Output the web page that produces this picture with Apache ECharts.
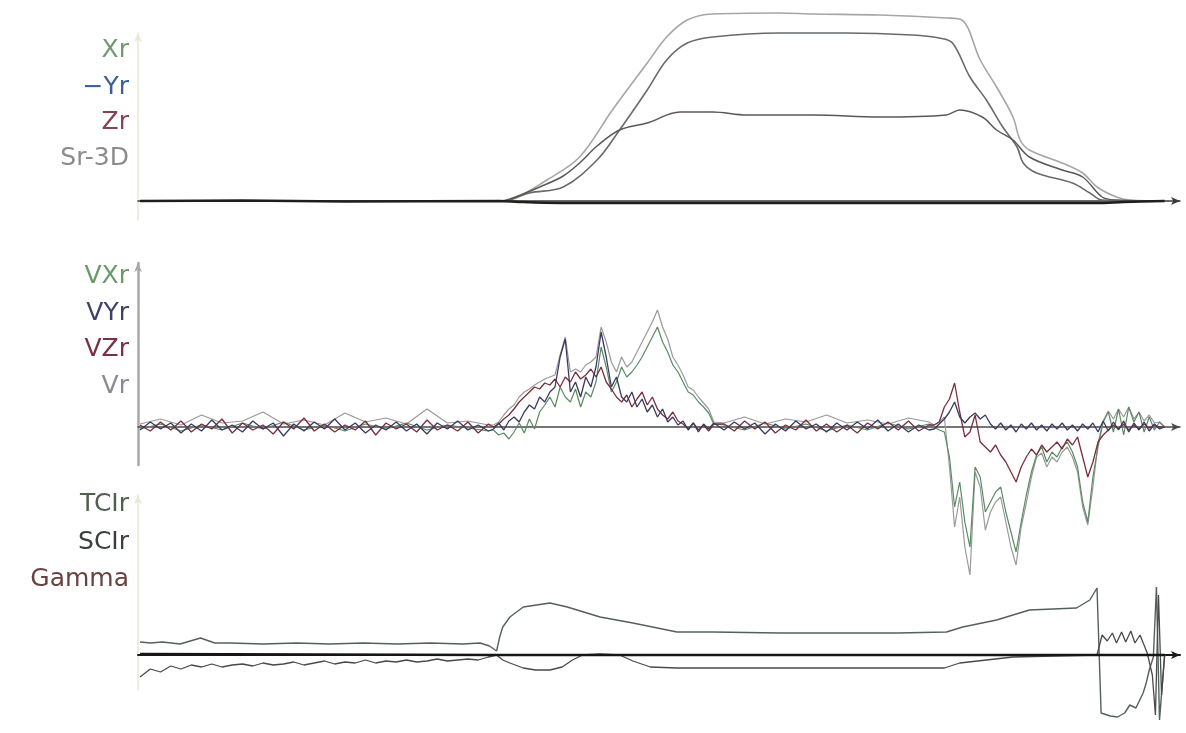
<!DOCTYPE html>
<html>
<head>
<meta charset="utf-8">
<script src="https://cdn.jsdelivr.net/npm/echarts@6/dist/echarts.min.js"></script>
<style>
html,body{margin:0;padding:0;background:#fff;}
#c{width:1186px;height:733px;}
</style>
</head>
<body>
<div id="c"></div>
<script>
// ---------- Panel 1: positions ----------
const labels1 = ['Xr', '\u2212Yr', 'Zr', 'Sr-3D'];
const tSr = [0,35.1,36.1,39.7,42.9,46.1,49.5,51.4,53.4,55.9,62.4,65.7,72.2,78.7,80.2,82.0,83.6,85.2,85.9,86.8,90.0,92.0,93.4,95.3,96.6,100];
const sr3d = [0,0,1,21,44,91,138,164,181,187,188,187,186,183,181,141,114,84,61,51,38,28,14,4,1,0];
const tXr = [0,35.1,36.1,38.0,41.3,44.6,46.8,49.5,51.4,53.4,55.9,62.4,68.9,75.4,78.0,79.3,81.0,82.6,84.2,85.6,86.2,87.5,91.0,92.7,93.9,100];
const xr = [0,0,1,8,14,41,71,111,141,158,164,168,168,166,163,158,124,101,74,54,38,28,18,8,1,0];
const tZr = [0,35.1,36.1,39.0,41.3,42.9,44.6,46.8,49.5,52.7,55.9,59.2,65.7,72.2,78.7,80.0,82.2,83.6,85.2,86.8,90.0,92.0,93.9,95.3,100];
const zr = [0,0,2,14,25,38,55,71,78,89,89,86,86,84,86,91,84,71,61,44,31,24,4,1,0];
const tYr = [0,10,20,35.1,37,41,93.4,96,100];
const myr = [0,0.5,-0.5,0,-1,-2,-2,-1,0];

// ---------- Panel 2: velocities ----------
const labels2 = ['VXr', 'VYr', 'VZr', 'Vr'];
const T2 = [0,1,2,3,4,5,6,7,8,9,10,11,12,13,14,15,16,17,18,19,20,21,22,23,24,25,26,27,28,29,30,31,32,33,34,
  34.5,35,35.5,36,36.5,37,37.5,38,38.5,39,39.5,40,40.5,41,41.5,42,42.5,43,43.5,44,44.5,45,45.5,46,46.5,47,47.5,48,48.5,49,49.5,50,50.5,51,51.5,52,52.5,53,53.5,54,54.5,55,55.5,56,
  57,58,59,60,61,62,63,64,65,66,67,68,69,70,71,72,73,74,75,76,77,
  77.5,78,78.5,79,79.5,80,80.5,81,81.5,82,82.5,83,83.5,84,84.5,85,85.5,86,86.5,87,87.5,88,88.5,89,89.5,90,90.5,91,91.5,92,92.5,93,93.5,94,94.5,95,95.5,96,96.5,97,97.5,98,98.5,99,99.5,100];
const vzr = [2,-4,5,-3,6,-5,3,-2,8,-6,4,-3,2,-7,5,-2,9,-4,3,-5,2,-3,6,-8,4,-2,3,-5,7,-3,2,-4,5,-6,3,
  0,3,8,12,18,25,30,35,40,38,44,42,48,40,50,45,55,48,52,58,50,60,45,38,30,25,32,20,28,35,22,30,18,12,8,15,6,3,-2,4,-3,2,-4,3,
  3,-4,6,-2,5,-6,2,-3,7,-4,3,-5,2,-6,4,-2,5,-3,6,-4,2,
  2,5,20,28,44,15,-10,-5,12,-15,-20,-25,-18,-28,-35,-45,-55,-40,-30,-22,-28,-18,-25,-20,-15,-22,-12,-18,-10,-30,-50,-35,-15,-8,-3,2,-2,3,-3,2,-2,3,-1,2,0,0];
const vyr = [-3,5,-2,4,-6,3,-4,7,-3,2,-5,6,-2,4,-9,3,-4,5,-2,8,-3,4,-6,2,-3,5,-4,3,-7,4,-2,6,-3,2,-4,
  -2,4,-3,6,10,5,15,22,18,30,25,35,40,70,88,35,45,30,50,40,60,95,70,40,50,30,25,35,20,28,15,22,10,18,5,10,2,6,-3,4,-5,3,-2,4,
  -3,5,-2,4,-7,3,-4,6,-2,3,-5,4,-3,5,-2,7,-4,3,-5,2,-3,
  -2,3,8,15,25,10,4,10,14,8,12,3,-2,4,-3,2,-5,3,-2,4,-3,2,-4,3,-2,4,-3,2,-4,3,-2,4,-5,6,-4,5,-3,6,-5,4,-3,5,-4,3,-2,0];
const T2s = [0,2,4,6,8,10,12,14,16,18,20,22,24,26,28,30,32,34,
  34.5,35,35.5,36,36.5,37,37.5,38,38.5,39,39.5,40,40.5,41,41.5,42,42.5,43,43.5,44,44.5,45,45.5,46,46.5,47,47.5,48,48.5,49,49.5,50,50.5,51,51.5,52,52.5,53,53.5,54,54.5,55,55.5,56,
  57,59,61,63,65,67,69,71,73,75,77,
  77.5,78,78.5,79,79.5,80,80.5,81,81.5,82,82.5,83,83.5,84,84.5,85,85.5,86,86.5,87,87.5,88,88.5,89,89.5,90,90.5,91,91.5,92,92.5,93,93.5,94,94.5,95,95.5,96,96.5,97,97.5,98,98.5,99,99.5,100];
const vxr = [-2,3,-4,2,-3,4,-2,5,-3,2,-4,3,-2,4,-3,2,-1,-4,
  -3,-8,-6,-12,-5,4,-6,8,-2,15,22,30,20,40,30,25,38,20,35,30,45,80,60,35,45,60,50,55,62,70,80,90,100,85,75,62,55,45,35,32,25,20,14,3,
  2,-3,4,-2,3,-4,2,-3,4,-2,3,
  0,-3,-5,-30,-80,-55,-95,-120,-40,-50,-85,-75,-65,-60,-85,-105,-125,-95,-68,-45,-28,-20,-35,-25,-30,-20,-15,-25,-40,-75,-95,-50,-20,5,15,-5,18,-8,20,5,15,-5,10,-3,5,0];
const vr = [3,8,2,12,4,6,15,3,7,2,14,5,9,3,18,4,6,2,
  2,5,12,18,22,30,35,38,42,45,48,50,52,72,90,55,58,55,62,65,70,100,85,65,55,70,60,65,75,85,95,105,117,100,88,70,62,52,40,37,30,24,18,5,
  4,10,3,8,5,12,4,7,3,9,5,
  2,5,10,-40,-100,-70,-120,-148,-45,-60,-103,-85,-75,-70,-95,-120,-138,-100,-76,-50,-30,-26,-40,-30,-35,-25,-20,-30,-45,-80,-98,-60,-16,6,16,8,18,10,20,8,15,6,12,4,5,0];

// ---------- Panel 3: indices ----------
const labels3 = ['TCIr', 'SCIr', 'Gamma'];
const tTci = [0,1,2.2,3.9,5.9,7.3,8.8,12,15.3,18.5,21.8,25.1,28.3,31.5,33.2,34.1,34.8,35.1,35.4,36.1,37.4,40,41.7,44.9,48.1,52.4,55.9,62.4,69.3,73.9,78.7,80.3,83.6,86.8,91.4,92.7,93.4,93.8,94.7,95.4,96.1,96.6,97.2,97.9,98.2,98.5,98.9,99.2,99.5,100];
const tcir = [13,12,13,11,17,12,12,11,12,11,12,11,12,11,12,9,4,18,28,38,48,52,48,38,32,23,23,22,22,22,23,28,35,45,47,55,67,-58,-61,-62,-58,-50,-53,-38,-28,-15,-2,68,-65,0];
const tSci = [0,1,2,3,4,5,6,7,8,9,10,11,12,13,14,15,16,17,18,19,20,21,22,23,24,25,26,27,28,29,30,31,32,33,34,
  34.8,35.4,36.1,37.4,38.6,40,41.2,42.2,43.2,44.9,46.8,48.1,49.8,52.4,62.4,67.3,78.5,80,85.2,93.4,93.9,94.4,94.9,95.3,95.8,96.2,96.7,97.1,97.6,98.3,98.8,99.1,99.4,99.7,100];
const scir = [-22,-14,-17,-11,-14,-10,-12,-9,-12,-10,-9,-11,-8,-10,-9,-7,-10,-8,-6,-9,-7,-8,-5,-8,-6,-7,-5,-7,-6,-4,-6,-5,-4,-5,-2,
  0,-5,-8,-13,-15,-15,-12,-5,0,1,0,-6,-12,-13,-13,-13,-13,-8,-2,0,20,14,22,12,23,13,24,12,20,2,-20,-60,60,-40,0];
const tGam = [0,34.8,93.4,100];
const gamma = [1,0,0,0];

// ---------- build ----------
const zip = (t, v) => t.map((x, i) => [x, v[i]]);
const grids = [
  {left:138, right:6, top:33, height:187},
  {left:138, right:6, top:263, height:202},
  {left:138, right:6, top:495, height:195}
];
const yr = [[-19,168],[-38,164],[-35,160]];
const yAxisColor = ['#e8e8d4','#a8a8a8','#e8e8d4'];
const yAxisWidth = [1.5, 2.5, 1.5];
const xAxisColor = ['#3a3a3a','#4a4a4a','#1a1a1a'];
const xAxisWidth = [1.5, 1.5, 2];

const xAxis = grids.map((g, i) => ({
  type:'value', gridIndex:i, min:-0.2, max:101.5,
  axisLine:{show:true, onZero:true, symbol:['none','arrow'], symbolSize:[6,9], lineStyle:{color:xAxisColor[i], width:xAxisWidth[i]}},
  axisTick:{show:false}, axisLabel:{show:false}, splitLine:{show:false}
}));
const yAxis = grids.map((g, i) => ({
  type:'value', gridIndex:i, min:yr[i][0], max:yr[i][1],
  axisLine:{show:true, onZero:false, symbol:['none','arrow'], symbolSize:[6,9], lineStyle:{color:yAxisColor[i], width:yAxisWidth[i]}},
  axisTick:{show:false}, axisLabel:{show:false}, splitLine:{show:false}
}));

function ln(name, gi, t, v, color, width, smooth, z) {
  return {
    name, type:'line', xAxisIndex:gi, yAxisIndex:gi, data:zip(t, v),
    showSymbol:false, symbol:'none', clip:false, smooth:smooth || false,
    lineStyle:{color, width}, itemStyle:{color}, z:z || 2, silent:true
  };
}

const series = [
  ln('Sr-3D', 0, tSr, sr3d, '#a6a6a6', 1.6, 0.35),
  ln('Xr', 0, tXr, xr, '#676c67', 1.6, 0.35),
  ln('Zr', 0, tZr, zr, '#5f5757', 1.5, 0.35),
  ln('-Yr', 0, tYr, myr, '#1e1e1e', 2.5, 0.3, 3),

  ln('Vr', 1, T2s, vr, '#9a9a9a', 1.2),
  ln('VXr', 1, T2s, vxr, '#5b8a62', 1.2),
  ln('VZr', 1, T2, vzr, '#7a2f3f', 1.3),
  ln('VYr', 1, T2, vyr, '#3b3b60', 1.3),

  ln('TCIr', 2, tTci, tcir, '#56605a', 1.4),
  ln('SCIr', 2, tSci, scir, '#4a4a4a', 1.3),
  ln('Gamma', 2, tGam, gamma, '#161616', 2.5, false, 3)
];

const font = '25px "DejaVu Sans"';
function lbl(text, y, color) {
  return {type:'text', x:129, y, style:{text, fill:color, font, textAlign:'right', textVerticalAlign:'middle'}, silent:true};
}
const labelColors1 = ['#6e9a6e','#3b5e9a','#8a4152','#8c8c8c'];
const labelY1 = [50, 87, 122, 158];
const labelColors2 = ['#6a9a6a','#40406c','#7a3042','#8a8a96'];
const labelY2 = [276, 313, 349, 386];
const labelColors3 = ['#4f604f','#3a3f3f','#6a4242'];
const labelY3 = [504, 542, 579];

const graphic = [
  ...labels1.map((s, i) => lbl(s, labelY1[i], labelColors1[i])),
  ...labels2.map((s, i) => lbl(s, labelY2[i], labelColors2[i])),
  ...labels3.map((s, i) => lbl(s, labelY3[i], labelColors3[i]))
];

const chart = echarts.init(document.getElementById('c'), null, {renderer:'canvas'});
chart.setOption({
  backgroundColor:'#ffffff',
  animation:false,
  grid:grids,
  xAxis, yAxis, series, graphic
});
</script>
</body>
</html>
